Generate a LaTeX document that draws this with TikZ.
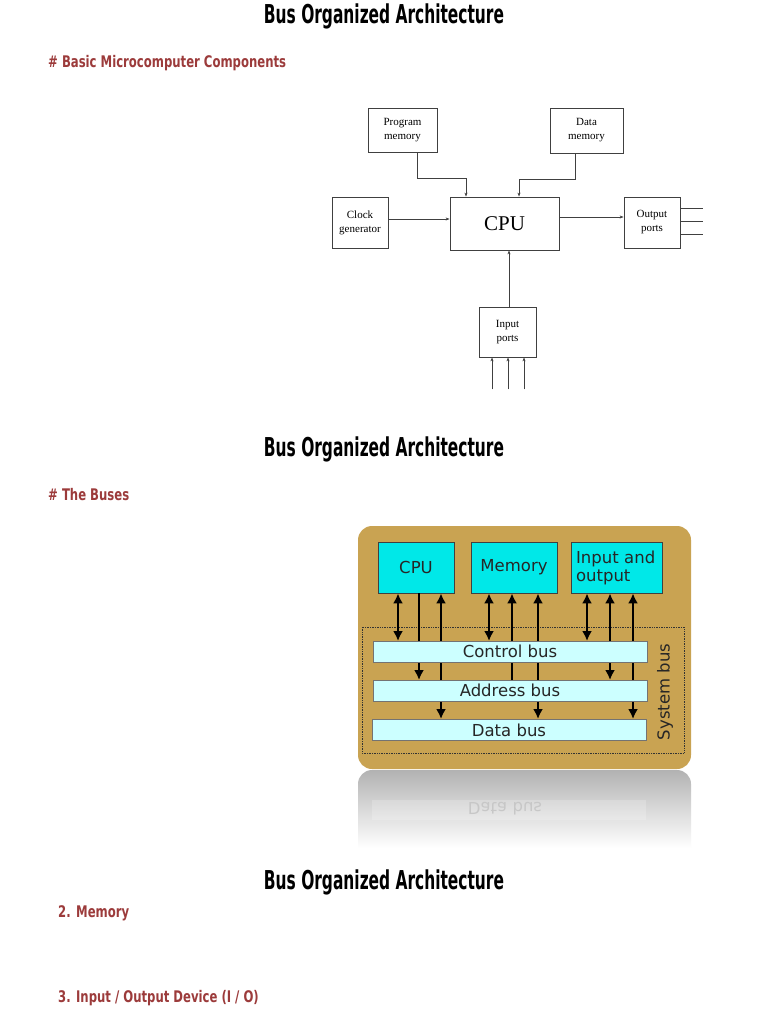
\documentclass[tikz,border=0pt]{standalone}
\usepackage{fontspec}
\usepackage{xcolor}
\usepackage{tikz}
\usetikzlibrary{arrows.meta}
\setmainfont{Liberation Serif}
\newfontfamily\slidefont[FakeStretch=0.66]{DejaVu Sans Condensed Bold}
\newfontfamily\headfont[FakeStretch=0.81]{DejaVu Sans Condensed Bold}
\newfontfamily\busfont{DejaVu Sans}
\definecolor{headred}{HTML}{9C3B3B}
\definecolor{boardtan}{HTML}{C9A352}
\definecolor{unitcyan}{HTML}{00E8E8}
\definecolor{barcyan}{HTML}{CCFFFF}
\definecolor{wiregray}{HTML}{404040}
\tikzstyle{slidetitle} = [font=\slidefont\fontsize{26}{28}\selectfont, text=black]
\tikzstyle{slidehead} = [font=\headfont\fontsize{16}{19}\selectfont, text=headred,
anchor=west, inner sep=0pt]
\tikzstyle{blockbox} = [draw=wiregray, line width=0.8pt, fill=white, rectangle,
align=center, inner sep=1pt, font=\fontsize{11}{14}\selectfont]
\tikzstyle{wire} = [draw=wiregray, line width=0.8pt]
\tikzstyle{wirearrow} = [wire, -{Stealth[length=4pt,width=3pt]}]
\tikzstyle{unitbox} = [draw=black!75, line width=0.8pt, fill=unitcyan, rectangle,
inner sep=1pt, font=\busfont\fontsize{16.5}{18}\selectfont, text=black!85]
\tikzstyle{busbar} = [draw=black!55, line width=0.8pt, fill=barcyan, rectangle,
minimum width=274pt, minimum height=21pt, inner sep=0pt,
font=\busfont\fontsize{16.5}{18}\selectfont, text=black!85]
\tikzstyle{busarrow} = [draw=black, line width=2pt,
>={Latex[length=10pt,width=10pt]}, ->]
\tikzstyle{busboth} = [busarrow, <->]

\begin{document}
\begin{tikzpicture}[x=1pt,y=-1pt]
        \useasboundingbox[fill=white] (0,0) rectangle (768,1024);

        % slide headings
        \node[slidetitle] (title1) at (384,16) {Bus Organized Architecture};
        \node[slidehead] (head1) at (48,63) {\# Basic Microcomputer Components};
        \node[slidetitle] (title2) at (384,449) {Bus Organized Architecture};
        \node[slidehead] (head2) at (48,495) {\# The Buses};
        \node[slidetitle] (title3) at (384,882) {Bus Organized Architecture};
        \node[slidehead] (head3) at (58,913) {2. Memory};
        \node[slidehead] (head4) at (58,998) {3. Input / Output Device (I / O)};

        % basic microcomputer
        \node[blockbox, minimum width=69pt, minimum height=44pt] (pmem) at (402.5,130) {Program\\memory};
        \node[blockbox, minimum width=73pt, minimum height=45pt] (dmem) at (586.5,130.5) {Data\\memory};
        \node[blockbox, minimum width=56pt, minimum height=51pt] (clock) at (360,222.5) {Clock\\generator};
        \node[blockbox, minimum width=109pt, minimum height=53pt, font=\fontsize{21}{24}\selectfont] (cpu) at (504.5,223.5) {CPU};
        \node[blockbox, minimum width=56pt, minimum height=51pt] (outp) at (652,222.5) {Output\\ports};
        \node[blockbox, minimum width=57pt, minimum height=50pt] (inp) at (507.5,332) {Input\\ports};

        \draw[wirearrow] ([xshift=14.5pt]pmem.south) -- ++(0,26) -| ([xshift=-38.5pt]cpu.north);
        \draw[wirearrow] ([xshift=-11.5pt]dmem.south) -- ++(0,26) -| ([xshift=14.5pt]cpu.north);
        \draw[wirearrow] ([yshift=3.5pt]clock.east) -- ([yshift=3.5pt]clock.east -| cpu.west);
        \draw[wirearrow] ([yshift=6.5pt]cpu.east) -- ([yshift=6.5pt]cpu.east -| outp.west);
        \draw[wirearrow] ([xshift=1.5pt]inp.north) -- ([xshift=1.5pt]inp.north |- cpu.south);
        \foreach \dy in {14.5,1.5,-11.5}
            \draw[wire] ([yshift=\dy pt]outp.east) -- ++(23,0);
        \foreach \dx in {-15.5,0.5,16.5}
            \draw[wirearrow] ([xshift=\dx pt]inp.south) ++(0,32) -- ([xshift=\dx pt]inp.south);

        % the buses
        \shade[top color=black!30, bottom color=white, rounded corners=14pt]
            (358,848) |- (691,770) -- (691,848);
        \fill[white, opacity=0.2] (372,800) rectangle (646,820);
        \node[transform shape, yscale=-1, text=black!22, font=\busfont\fontsize{16.5}{18}\selectfont] (mirror) at (505,809) {Data bus};
        \fill[boardtan, rounded corners=14pt] (358,526) rectangle (691,769);
        \draw[black!80, densely dotted, line width=0.7pt] (362,627) rectangle (684,753);

        \node[unitbox, minimum width=76pt, minimum height=51pt] (cpu2) at (416,567.5) {CPU};
        \node[unitbox, minimum width=86pt, minimum height=51pt] (mem) at (514,567.5) {Memory};
        \node[unitbox, minimum width=91pt, minimum height=51pt, align=left, text width=81pt] (io) at (616.5,567.5) {Input and\\output};

        \coordinate (ctrlpos) at (510,651.5);
        \coordinate (addrpos) at (510,690.5);
        \coordinate (datapos) at (509,730);

        \draw[busboth] ([xshift=-18pt]cpu2.south) -- ([xshift=-18pt]cpu2.south |- 0,641);
        \draw[busarrow] ([xshift=3pt]cpu2.south) -- ([xshift=3pt]cpu2.south |- 0,680);
        \draw[busboth] ([xshift=25pt]cpu2.south) -- ([xshift=25pt]cpu2.south |- 0,719);
        \draw[busboth] ([xshift=-25pt]mem.south) -- ([xshift=-25pt]mem.south |- 0,641);
        \draw[busarrow] ([xshift=-2pt]mem.south |- 0,680) -- ([xshift=-2pt]mem.south);
        \draw[busboth] ([xshift=24pt]mem.south) -- ([xshift=24pt]mem.south |- 0,719);
        \draw[busboth] ([xshift=-29.5pt]io.south) -- ([xshift=-29.5pt]io.south |- 0,641);
        \draw[busboth] ([xshift=-6.5pt]io.south) -- ([xshift=-6.5pt]io.south |- 0,680);
        \draw[busboth] ([xshift=16.5pt]io.south) -- ([xshift=16.5pt]io.south |- 0,719);

        \node[busbar] (ctrl) at (ctrlpos) {Control bus};
        \node[busbar] (addr) at (addrpos) {Address bus};
        \node[busbar] (data) at (datapos) {Data bus};
        \node[rotate=90, font=\busfont\fontsize{16.5}{18}\selectfont, text=black!85] (sysbus) at (665,692) {System bus};
    \end{tikzpicture}
\end{document}
